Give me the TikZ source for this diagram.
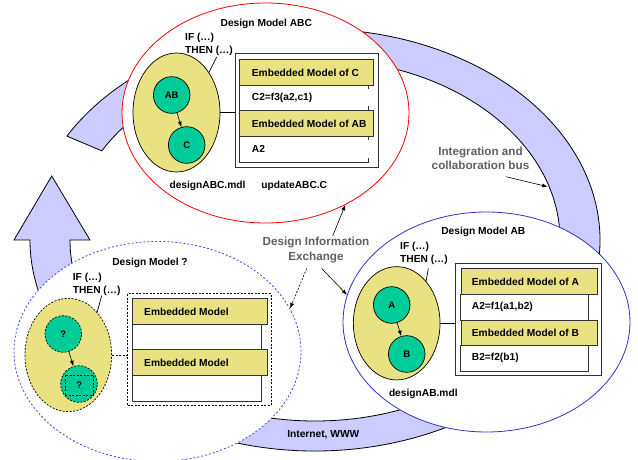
\documentclass[tikz,border=0pt]{standalone}
\usepackage{fontspec}
\setmainfont{Liberation Sans}
\usetikzlibrary{shapes.geometric,arrows.meta}
\definecolor{bandc}{RGB}{204,204,255}
\definecolor{yel}{RGB}{232,226,130}
\definecolor{grn}{RGB}{0,204,153}
\definecolor{blu}{RGB}{51,51,204}
\definecolor{dblu}{RGB}{70,70,230}
\definecolor{graytxt}{RGB}{96,96,96}
\definecolor{framec}{RGB}{50,50,50}
\begin{document}
\begin{tikzpicture}[x=1pt,y=-1pt,
 lbl/.style={font=\bfseries\fontsize{10.2}{13}\selectfont, inner sep=0pt},
 glbl/.style={font=\bfseries\fontsize{11.7}{14.6}\selectfont, text=graytxt, inner sep=0pt, align=center},
 bigell/.style={ellipse, minimum width=287pt, minimum height=220pt, inner sep=0pt, fill=white, line width=0.8pt},
 yell/.style={ellipse, minimum width=87pt, minimum height=114pt, inner sep=0pt, fill=yel, draw=black, line width=0.7pt},
 gcirc/.style={circle, minimum size=36.6pt, inner sep=0pt, fill=grn, draw=black, line width=0.7pt, font=\bfseries\fontsize{9.5}{11}\selectfont},
 obox/.style={rectangle, draw=framec, fill=white, line width=0.8pt, anchor=north west, inner sep=0pt},
 hdr/.style={rectangle, draw=framec, fill=yel, line width=0.8pt, anchor=north west, inner sep=0pt},
 rowb/.style={rectangle, fill=white, anchor=north west, inner sep=0pt},
 rowline/.style={draw=framec, line width=0.8pt},
 dsh/.style={dash pattern=on 2pt off 1.5pt},
 arr/.style={-{Latex[length=5.5pt,width=4pt]}, line width=0.6pt},
 band/.style={fill=bandc, draw=black, line width=0.8pt},
 lead/.style={draw=black, line width=0.7pt}]
\useasboundingbox (0,0) rectangle (638,460);
\clip (0,0) rectangle (638,460);

% the bus ring arrow
\draw[band] (66.95,136.10) arc[start angle=-150.5, end angle=180, x radius=285, y radius=211]
  -- (14,240) -- (51.7,176) -- (90,240) -- (70,240)
  arc[start angle=180, end angle=-150.5, x radius=245, y radius=181] -- cycle;

% big model ellipses
\node[bigell, draw=red] (mABC) at (265.5,113) {};
\node[bigell, draw=blu] (mAB) at (486.5,322) {};
\node[bigell, draw=dblu, dash pattern=on 2pt off 2pt] (mQ) at (157.5,351.5) {};

% ---------- Design Model ABC ----------
\node[lbl] (tABC) at (266.3,24) {Design Model ABC};
\node[yell, minimum height=119pt] (yABC) at (176.5,112.5) {};
\node[gcirc] (cAB) at (171.7,95) {AB};
\node[gcirc] (cC) at (186.7,145) {C};
\draw[arr] (cAB) -- (cC);
\node[lbl, align=left, anchor=west] (ifABC) at (185,44.5) {IF (…)\\THEN (…)};
\coordinate (lABC) at (216.7,57);
\draw[lead] (lABC) -- (yABC.51);
\node[obox, minimum width=143.3pt, minimum height=113.7pt] (bABC) at (235,53) {};
\draw[lead] (yABC.east) -- (yABC.east -| bABC.west);
\node[rowb, minimum width=129pt, minimum height=25pt] (rC) at (239.3,85) {};
\node[rowb, minimum width=129pt, minimum height=25.7pt] (rAB) at (239.3,136) {};
\draw[rowline] (rC.north west) -- (rC.south west) -- (rC.south east) -- ++(0,-4);
\draw[rowline] (rC.north east) -- ++(0,4);
\draw[rowline] (rAB.north west) -- (rAB.south west) -- (rAB.south east) -- ++(0,-4);
\draw[rowline] (rAB.north east) -- ++(0,4);
\node[hdr, minimum width=134pt, minimum height=25.7pt] (hC) at (239.3,59.3) {};
\node[hdr, minimum width=134pt, minimum height=26pt] (hAB) at (239.3,110) {};
\node[lbl, anchor=west] (thC) at ([xshift=12.4pt]hC.west) {Embedded Model of C};
\node[lbl, anchor=west] (trC) at ([xshift=12.4pt]rC.west) {C2=f3(a2,c1)};
\node[lbl, anchor=west] (thAB) at ([xshift=12.4pt]hAB.west) {Embedded Model of AB};
\node[lbl, anchor=west] (trAB) at ([xshift=12.4pt]rAB.west) {A2};
\node[lbl] (fABC) at (207.5,186) {designABC.mdl};
\node[lbl] (uABC) at (294.2,186) {updateABC.C};

% ---------- Design Model AB ----------
\node[lbl] (tAB) at (483.3,231.7) {Design Model AB};
\node[yell, minimum width=86.7pt, minimum height=113.3pt] (yAB) at (396.7,323.3) {};
\node[gcirc] (cA) at (391.7,305) {A};
\node[gcirc] (cB) at (406.7,354) {B};
\draw[arr] (cA) -- (cB);
\node[lbl, align=left, anchor=west] (ifAB) at (400,253.5) {IF (…)\\THEN (…)};
\coordinate (lAB) at (428.3,268.3);
\draw[lead] (lAB) -- (yAB.55);
\node[obox, minimum width=146pt, minimum height=112.3pt] (bAB) at (455,263) {};
\draw[lead] (yAB.east) -- (yAB.east -| bAB.west);
\node[rowb, minimum width=127.6pt, minimum height=25.7pt] (rA) at (460.7,294) {};
\node[rowb, minimum width=127.6pt, minimum height=26pt] (rB) at (460.7,344.7) {};
\draw[rowline] (rA.north west) -- (rA.south west) -- (rA.south east) -- (rA.north east);
\draw[rowline] (rB.north west) -- (rB.south west) -- (rB.south east) -- (rB.north east);
\node[hdr, minimum width=136pt, minimum height=26pt] (hA) at (460.7,268) {};
\node[hdr, minimum width=136pt, minimum height=25pt] (hB) at (460.7,319.7) {};
\node[lbl, anchor=west] (thA) at ([xshift=11pt]hA.west) {Embedded Model of A};
\node[lbl, anchor=west] (trA) at ([xshift=11pt]rA.west) {A2=f1(a1,b2)};
\node[lbl, anchor=west] (thB) at ([xshift=11pt]hB.west) {Embedded Model of B};
\node[lbl, anchor=west] (trB) at ([xshift=11pt]rB.west) {B2=f2(b1)};
\node[lbl] (fAB) at (423.3,394.3) {designAB.mdl};

% ---------- Design Model ? ----------
\node[lbl] (tQ) at (150,262.7) {Design Model ?};
\node[yell, dsh, minimum width=86.7pt, minimum height=113.3pt] (yQ) at (68.3,355) {};
\node[gcirc, dsh] (cQ1) at (63.3,334) {?};
\node[gcirc, dsh] (cQ2) at (79,384) {};
\node[rectangle, draw=black, dsh, line width=0.7pt, minimum width=28.3pt, minimum height=20pt, inner sep=0pt, font=\bfseries\fontsize{9.5}{11}\selectfont] (sQ) at (79.2,385) {?};
\draw[arr] (cQ1) -- (cQ2);
\node[lbl, align=left, anchor=west] (ifQ) at (72.7,284.5) {IF (…)\\THEN (…)};
\coordinate (lQ) at (101.7,295.5);
\draw[lead] (lQ) -- (yQ.56);
\node[obox, dsh, draw=black, minimum width=143.4pt, minimum height=111.7pt] (bQ) at (127.3,293.3) {};
\draw[lead, dsh] (yQ.east) -- (yQ.east -| bQ.west);
\node[rowb, minimum width=128.4pt, minimum height=25pt] (rQ1) at (132.3,324) {};
\node[rowb, minimum width=128.4pt, minimum height=25.7pt] (rQ2) at (132.3,375) {};
\draw[rowline] (rQ1.north west) -- (rQ1.south west) -- (rQ1.south east) -- (rQ1.north east);
\draw[rowline] (rQ2.north west) -- (rQ2.south west) -- (rQ2.south east) -- (rQ2.north east);
\node[hdr, minimum width=134.4pt, minimum height=25.7pt] (hQ1) at (132.3,298.3) {};
\node[hdr, minimum width=134.4pt, minimum height=26pt] (hQ2) at (132.3,349) {};
\node[lbl, anchor=west] (thQ1) at ([xshift=11.7pt]hQ1.west) {Embedded Model};
\node[lbl, anchor=west] (thQ2) at ([xshift=11.7pt]hQ2.west) {Embedded Model};

% ---------- labels and pointers ----------
\node[glbl] (die) at (316,250) {Design Information\\Exchange};
\coordinate (dieA) at (332.7,236);
\coordinate (dieB) at (306.7,268.5);
\coordinate (dieC) at (321.7,268.5);
\draw[arr] (dieA) -- (mABC.-49);
\draw[arr, dsh] (dieB) -- (mQ.18.9);
\draw[arr] (dieC) -- (mAB.169.7);

\node[glbl] (icb) at (480.5,158.3) {Integration and\\collaboration bus};
\coordinate (icbA) at (506,176.7);
\coordinate (busP) at (547.7,186.7);
\draw[arr] (icbA) -- (busP);

\node[lbl] (inet) at (323.3,435) {Internet, WWW};
\end{tikzpicture}
\end{document}
